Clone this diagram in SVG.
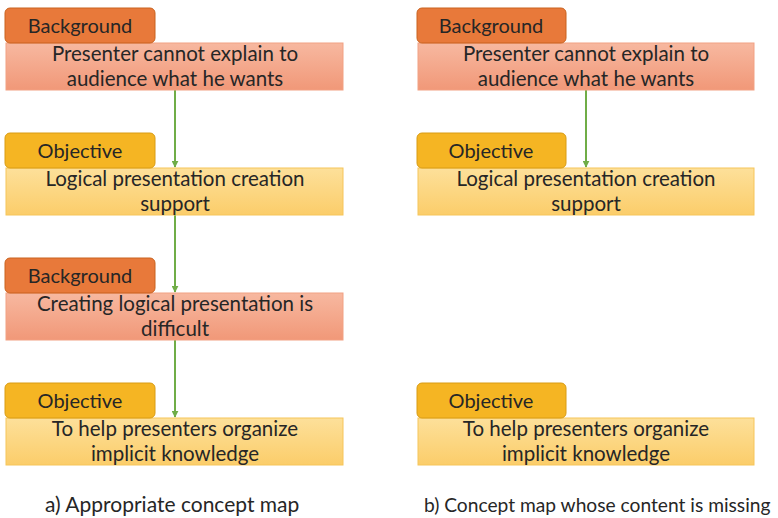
<svg xmlns="http://www.w3.org/2000/svg" width="778" height="518" viewBox="0 0 778 518">
  <defs>
    <linearGradient id="gBgBody" x1="0" y1="0" x2="0" y2="1">
      <stop offset="0" stop-color="#f7b8a0"/>
      <stop offset="1" stop-color="#f19878"/>
    </linearGradient>
    <linearGradient id="gObjBody" x1="0" y1="0" x2="0" y2="1">
      <stop offset="0" stop-color="#fde09a"/>
      <stop offset="1" stop-color="#fbcd6a"/>
    </linearGradient>
    <marker id="arrow" viewBox="0 0 10 10" refX="9" refY="5" markerWidth="7" markerHeight="7" markerUnits="userSpaceOnUse" orient="auto">
      <path d="M0,0 L10,5 L0,10 z" fill="#70ad47"/>
    </marker>
  </defs>
  <style>
    text { font-family: Lato, "Liberation Sans", sans-serif; fill: #262626; }
    .tab { font-size: 20px; text-anchor: middle; }
    .body { font-size: 20.5px; text-anchor: middle; }
    .cap { font-size: 21px; }
    .capB { font-size: 19.2px; }
    .tabBg { fill: #e8793a; stroke: #c9631f; stroke-width: 1; }
    .tabObj { fill: #f5b523; stroke: #d99c14; stroke-width: 1; }
    .boxBg { fill: url(#gBgBody); stroke: #f2a183; stroke-width: 1; }
    .boxObj { fill: url(#gObjBody); stroke: #f6c55a; stroke-width: 1; }
    .link { stroke: #70ad47; stroke-width: 2; fill: none; marker-end: url(#arrow); }
  </style>
  <rect width="778" height="518" fill="#ffffff"/>

  <!-- connectors -->
  <g id="connectors">
    <line class="link" x1="175" y1="90" x2="175" y2="167"/>
    <line class="link" x1="175" y1="215" x2="175" y2="292"/>
    <line class="link" x1="175" y1="340" x2="175" y2="417"/>
    <line class="link" x1="586" y1="90" x2="586" y2="167"/>
  </g>

  <!-- left map -->
  <g id="a-background-1">
    <rect class="boxBg" x="6" y="43" width="337" height="47"/>
    <rect class="tabBg" x="5" y="8" width="150" height="35" rx="5"/>
    <text class="tab" x="80" y="33">Background</text>
    <text class="body" x="175" y="61">Presenter cannot explain to</text>
    <text class="body" x="175" y="86">audience what he wants</text>
  </g>
  <g id="a-objective-1">
    <rect class="boxObj" x="6" y="168" width="337" height="47"/>
    <rect class="tabObj" x="5" y="133" width="150" height="35" rx="5"/>
    <text class="tab" x="80" y="158">Objective</text>
    <text class="body" x="175" y="186">Logical presentation creation</text>
    <text class="body" x="175" y="211">support</text>
  </g>
  <g id="a-background-2">
    <rect class="boxBg" x="6" y="293" width="337" height="47"/>
    <rect class="tabBg" x="5" y="258" width="150" height="35" rx="5"/>
    <text class="tab" x="80" y="283">Background</text>
    <text class="body" x="175" y="311">Creating logical presentation is</text>
    <text class="body" x="175" y="336">difficult</text>
  </g>
  <g id="a-objective-2">
    <rect class="boxObj" x="6" y="418" width="337" height="47"/>
    <rect class="tabObj" x="5" y="383" width="150" height="35" rx="5"/>
    <text class="tab" x="80" y="408">Objective</text>
    <text class="body" x="175" y="436">To help presenters organize</text>
    <text class="body" x="175" y="461">implicit knowledge</text>
  </g>

  <!-- right map -->
  <g id="b-background-1">
    <rect class="boxBg" x="418" y="43" width="336" height="47"/>
    <rect class="tabBg" x="417" y="8" width="149" height="35" rx="5"/>
    <text class="tab" x="491" y="33">Background</text>
    <text class="body" x="586" y="61">Presenter cannot explain to</text>
    <text class="body" x="586" y="86">audience what he wants</text>
  </g>
  <g id="b-objective-1">
    <rect class="boxObj" x="418" y="168" width="336" height="47"/>
    <rect class="tabObj" x="417" y="133" width="149" height="35" rx="5"/>
    <text class="tab" x="491" y="158">Objective</text>
    <text class="body" x="586" y="186">Logical presentation creation</text>
    <text class="body" x="586" y="211">support</text>
  </g>
  <g id="b-objective-2">
    <rect class="boxObj" x="418" y="418" width="336" height="47"/>
    <rect class="tabObj" x="417" y="383" width="149" height="35" rx="5"/>
    <text class="tab" x="491" y="408">Objective</text>
    <text class="body" x="586" y="436">To help presenters organize</text>
    <text class="body" x="586" y="461">implicit knowledge</text>
  </g>

  <!-- captions -->
  <text class="cap" x="45" y="512">a) Appropriate concept map</text>
  <text class="capB" x="424" y="512">b) Concept map whose content is missing</text>
</svg>
